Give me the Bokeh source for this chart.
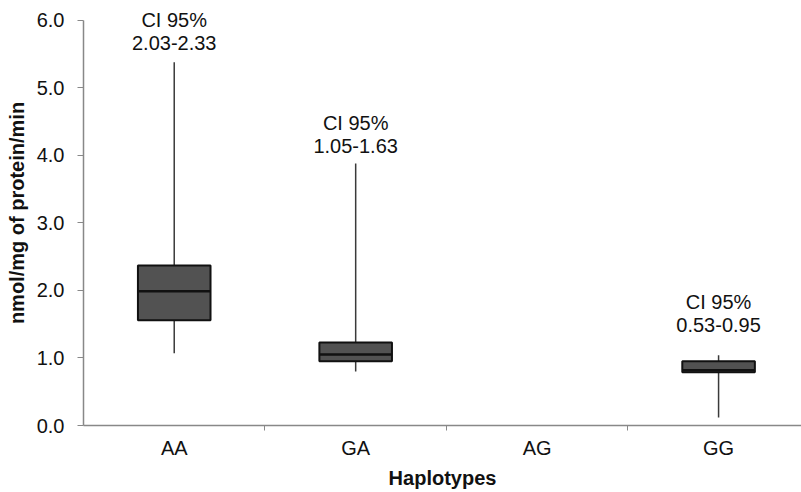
from bokeh.plotting import figure
from bokeh.models import ColumnDataSource, Range1d, FixedTicker, NumeralTickFormatter, LabelSet
from bokeh.core.properties import value
from bokeh.transform import dodge
from bokeh.embed import file_html
from bokeh.resources import INLINE

# ---- data ----
categories = ["AA", "GA", "AG", "GG"]
whisker_low = [1.07, 0.80, None, 0.12]
box_q1 = [1.56, 0.95, None, 0.79]
box_median = [1.99, 1.05, None, 0.82]
box_q3 = [2.37, 1.23, None, 0.95]
whisker_high = [5.38, 3.88, None, 1.04]
ci_title = "CI 95%"
ci_text = ["2.03-2.33", "1.05-1.63", None, "0.53-0.95"]
y_ticks = [0.0, 1.0, 2.0, 3.0, 4.0, 5.0, 6.0]
y_axis_max = 6.0

# style: per-label vertical pixel offsets (upwards from whisker top)
label_offsets = {"AA": 12, "GA": 11, "GG": 23}
LINE_GAP = 23
BOX_W = 0.40
FONT = "Liberation Sans"

idx = [i for i, v in enumerate(box_q1) if v is not None]
xs = [i + 0.5 for i in idx]
offs = [label_offsets[categories[i]] for i in idx]
src = ColumnDataSource(dict(
    x=xs,
    low=[whisker_low[i] for i in idx],
    q1=[box_q1[i] for i in idx],
    med=[box_median[i] for i in idx],
    q3=[box_q3[i] for i in idx],
    high=[whisker_high[i] for i in idx],
    title=[ci_title for i in idx],
    rng=[ci_text[i] for i in idx],
    off2=offs,
    off1=[o + LINE_GAP for o in offs],
))

# frame spans 425 px for 0..6.296 so 6.0 sits 20 px below the top
p = figure(width=801, height=492, output_backend="svg", toolbar_location=None,
           x_range=Range1d(0, 3.957), y_range=Range1d(0, 6.296),
           min_border_left=83, min_border_right=0, min_border_top=0, min_border_bottom=67)
p.outline_line_color = None
p.xgrid.grid_line_color = None
p.ygrid.grid_line_color = None
p.background_fill_color = "white"

# whiskers
p.segment(x0="x", x1="x", y0="low", y1="q1", source=src, line_color="#3a3a3a", line_width=1.5)
p.segment(x0="x", x1="x", y0="q3", y1="high", source=src, line_color="#3a3a3a", line_width=1.5)
# boxes
p.vbar(x="x", width=BOX_W, bottom="q1", top="q3", source=src,
       fill_color="#525252", line_color="#111111", line_width=2)
# medians
p.segment(x0=dodge("x", -BOX_W / 2), x1=dodge("x", BOX_W / 2), y0="med", y1="med",
          source=src, line_color="#111111", line_width=2.5)

for col, offcol in (("title", "off1"), ("rng", "off2")):
    p.add_layout(LabelSet(x="x", y="high", text=col, y_offset=offcol, source=src,
                          text_align="center", text_baseline="alphabetic",
                          text_font=value(FONT), text_font_size=value("20px"),
                          text_color="#111111"))

# x axis
xa = p.xaxis[0]
xa.ticker = FixedTicker(ticks=[i + 0.5 for i in range(len(categories))],
                        minor_ticks=[i for i in range(1, len(categories))])
xa.major_label_overrides = {i + 0.5: c for i, c in enumerate(categories)}
xa.major_tick_line_color = None
xa.major_tick_out = 0
xa.minor_tick_line_color = "#888888"
xa.minor_tick_out = 5
xa.minor_tick_in = 0
xa.major_label_standoff = 6
xa.major_label_text_font = FONT
xa.major_label_text_font_size = "20px"
xa.major_label_text_color = "#111111"
xa.axis_line_color = "#888888"
xa.axis_line_width = 1.5
xa.axis_label = "Haplotypes"
xa.axis_label_text_font = FONT
xa.axis_label_text_font_style = "bold"
xa.axis_label_text_font_size = "20px"
xa.axis_label_text_color = "#111111"
xa.axis_label_standoff = 5

# y axis
ya = p.yaxis[0]
ya.bounds = (0, y_axis_max)
ya.ticker = FixedTicker(ticks=y_ticks, minor_ticks=[])
ya.formatter = NumeralTickFormatter(format="0.0")
ya.major_tick_line_color = "#888888"
ya.major_tick_out = 6
ya.major_tick_in = 0
ya.minor_tick_line_color = None
ya.major_label_standoff = 13
ya.major_label_text_font = FONT
ya.major_label_text_font_size = "20px"
ya.major_label_text_color = "#111111"
ya.axis_line_color = "#888888"
ya.axis_line_width = 1.5
ya.axis_label = "nmol/mg of protein/min"
ya.axis_label_text_font = FONT
ya.axis_label_text_font_style = "bold"
ya.axis_label_text_font_size = "20px"
ya.axis_label_text_color = "#111111"
ya.axis_label_standoff = 6

open("out.html", "w").write(file_html(p, INLINE))
